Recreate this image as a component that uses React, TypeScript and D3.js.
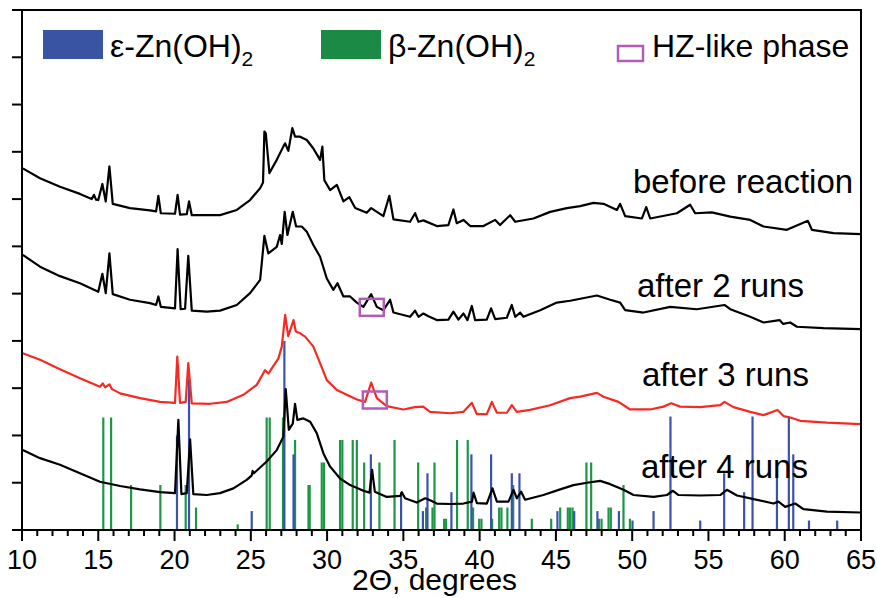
import React, { useEffect, useRef } from 'react';
import * as d3 from 'd3';

// reference stick patterns: [2theta, relative intensity %]
const epsilonSticks: [number, number][] = [
  [20.16, 50], [20.95, 80], [25.06, 10], [27.2, 100], [27.8, 40], [32.87, 40], [34.85, 20],
  [36.28, 10], [36.58, 30], [38.15, 20], [39.46, 40], [40.75, 40], [42.11, 30], [42.61, 30],
  [45.1, 10], [46.2, 10], [47.72, 10], [49.13, 10], [50.02, 5], [51.4, 10], [52.51, 60],
  [54.46, 5], [56.03, 30], [57.34, 20], [57.89, 60], [59.49, 30], [60.27, 60], [60.56, 40],
  [61.59, 5], [63.44, 5],
];

const betaSticks: [number, number][] = [
  [15.33, 100], [15.84, 100], [17.15, 40], [19.07, 40], [20.73, 40], [21.41, 20], [24.14, 5],
  [26.04, 100], [26.24, 100], [27.11, 100], [27.9, 80], [28.78, 40], [28.86, 40], [29.65, 60],
  [29.8, 60], [30.85, 80], [31.0, 80], [31.68, 80], [31.95, 80], [32.43, 60], [33.43, 60],
  [34.42, 80], [35.97, 60], [36.49, 20], [36.91, 20], [37.04, 60], [37.67, 10], [37.8, 10],
  [38.52, 80], [39.22, 80], [39.57, 20], [39.97, 10], [40.12, 10], [40.82, 10], [41.28, 20],
  [41.43, 20], [41.82, 20], [42.2, 40], [43.42, 10], [44.69, 10], [45.28, 20], [45.78, 20],
  [45.93, 20], [46.09, 20], [47.0, 60], [47.31, 60], [47.82, 10], [47.99, 10], [48.45, 20],
  [48.6, 20], [49.43, 40], [49.85, 10],
];

// full-scale stick height of each phase, in axis units
const epsilonFull = 4.0;
const betaFull = 2.38;

// measured patterns (offset stacked), [2theta, intensity a.u.]
const beforeReaction: [number, number][] = [
  [10.05, 7.65], [11.18, 7.44], [12.49, 7.26], [13.8, 7.11], [14.57, 7.0], [14.72, 7.09], [14.85, 6.99],
  [15.0, 6.98], [15.27, 7.32], [15.49, 6.95], [15.73, 7.69], [15.95, 6.9], [17.08, 6.81], [18.39, 6.76],
  [18.79, 6.74], [18.94, 7.07], [19.1, 6.7], [20.03, 6.69], [20.2, 7.09], [20.36, 6.67], [20.8, 6.68],
  [20.95, 6.95], [21.13, 6.66], [22.11, 6.66], [22.98, 6.66], [24.08, 6.77], [24.95, 6.98], [25.61, 7.23],
  [25.8, 7.35], [25.89, 8.43], [25.98, 8.39], [26.22, 7.55], [26.7, 7.83], [27.13, 8.11], [27.25, 8.18],
  [27.46, 8.02], [27.72, 8.5], [27.9, 8.32], [28.23, 8.32], [28.67, 8.25], [29.1, 8.07], [29.54, 7.83],
  [29.69, 8.11], [29.82, 7.4], [30.2, 7.19], [30.64, 7.3], [31.07, 6.95], [31.46, 7.04], [31.84, 6.81],
  [32.6, 6.71], [32.89, 6.81], [33.69, 6.64], [34.08, 7.07], [34.35, 6.57], [35.44, 6.52], [35.77, 6.7],
  [35.99, 6.52], [36.31, 6.55], [37.19, 6.43], [37.95, 6.45], [38.28, 6.78], [38.5, 6.49], [38.94, 6.56],
  [39.38, 6.43], [40.25, 6.43], [41.02, 6.56], [41.34, 6.45], [42.0, 6.66], [42.33, 6.52], [43.53, 6.59],
  [44.62, 6.73], [45.72, 6.81], [46.59, 6.85], [47.46, 6.92], [48.12, 6.9], [49.0, 6.77], [49.21, 6.9],
  [49.54, 6.64], [50.64, 6.59], [50.92, 6.83], [51.18, 6.59], [52.93, 6.7], [53.8, 6.88], [54.13, 6.7],
  [55.22, 6.72], [56.43, 6.63], [57.74, 6.56], [58.61, 6.42], [60.14, 6.35], [61.52, 6.54], [61.78, 6.35],
  [63.2, 6.28], [65.0, 6.26],
];

const after2Runs: [number, number][] = [
  [10.05, 5.82], [11.18, 5.57], [12.49, 5.37], [13.8, 5.22], [15.0, 5.04], [15.27, 5.42], [15.49, 5.01],
  [15.73, 5.85], [15.95, 4.99], [17.08, 4.87], [18.39, 4.8], [18.79, 4.76], [18.94, 4.94], [19.1, 4.72],
  [20.03, 4.69], [20.2, 5.94], [20.4, 4.67], [20.69, 4.68], [20.9, 5.8], [21.13, 4.64], [22.11, 4.62],
  [22.98, 4.64], [24.08, 4.76], [24.95, 5.01], [25.61, 5.29], [25.89, 6.22], [26.15, 5.85], [26.7, 5.99],
  [26.92, 6.24], [27.03, 6.05], [27.22, 6.73], [27.4, 6.24], [27.75, 6.73], [27.97, 6.42], [28.34, 6.42],
  [28.67, 6.31], [29.1, 6.03], [29.54, 5.78], [29.98, 5.32], [30.41, 5.08], [30.68, 5.22], [31.07, 4.94],
  [31.51, 4.94], [31.95, 4.81], [32.38, 4.72], [32.89, 4.99], [33.26, 4.72], [33.69, 4.65], [34.13, 4.87],
  [34.35, 4.6], [35.44, 4.51], [35.77, 4.64], [35.99, 4.51], [36.31, 4.58], [36.64, 4.52], [37.19, 4.44],
  [37.95, 4.45], [38.28, 4.62], [38.61, 4.45], [38.94, 4.58], [39.2, 4.44], [39.49, 4.74], [39.7, 4.44],
  [40.47, 4.45], [40.75, 4.69], [41.02, 4.46], [41.78, 4.49], [42.11, 4.76], [42.33, 4.51], [42.66, 4.6],
  [42.87, 4.51], [43.97, 4.65], [45.06, 4.81], [45.93, 4.85], [47.69, 4.96], [48.56, 4.87], [49.21, 4.81],
  [49.54, 4.65], [50.74, 4.6], [52.49, 4.72], [54.24, 4.67], [56.05, 4.76], [56.43, 4.67], [57.74, 4.51],
  [58.61, 4.39], [59.66, 4.44], [59.9, 4.36], [60.36, 4.39], [60.8, 4.3], [62.54, 4.27], [65.0, 4.25],
];

const after3Runs: [number, number][] = [
  [10.05, 3.74], [11.18, 3.6], [12.49, 3.4], [13.8, 3.21], [15.11, 3.03], [15.29, 3.1], [15.45, 3.02],
  [15.73, 3.08], [15.9, 2.98], [16.43, 2.89], [17.74, 2.79], [19.05, 2.71], [20.03, 2.69], [20.18, 3.67],
  [20.36, 2.69], [20.73, 2.71], [20.9, 3.53], [21.13, 2.68], [22.33, 2.67], [23.42, 2.71], [24.51, 2.86],
  [25.39, 3.07], [25.93, 3.38], [26.15, 3.31], [26.81, 3.63], [27.03, 3.88], [27.25, 4.55], [27.45, 4.1],
  [27.8, 4.44], [27.95, 4.2], [28.23, 4.16], [28.56, 4.09], [29.1, 3.88], [29.54, 3.53], [29.98, 3.17],
  [30.64, 2.96], [31.29, 2.86], [31.95, 2.76], [32.49, 2.71], [32.89, 3.12], [33.26, 2.79], [33.91, 2.62],
  [35.0, 2.55], [35.75, 2.6], [36.3, 2.61], [36.75, 2.5], [38.07, 2.47], [38.94, 2.5], [39.49, 2.69],
  [39.82, 2.45], [40.47, 2.45], [40.8, 2.71], [41.13, 2.48], [41.78, 2.48], [42.11, 2.64], [42.44, 2.5],
  [43.31, 2.54], [44.62, 2.64], [45.93, 2.79], [46.59, 2.82], [47.69, 2.9], [48.12, 2.82], [49.1, 2.71],
  [49.87, 2.55], [51.18, 2.55], [52.05, 2.61], [52.56, 2.68], [53.15, 2.61], [54.46, 2.6], [55.77, 2.64],
  [56.05, 2.71], [56.64, 2.6], [57.74, 2.5], [58.61, 2.43], [59.53, 2.54], [59.92, 2.41], [60.36, 2.38],
  [61.02, 2.31], [62.77, 2.27], [64.95, 2.24],
];

const after4Runs: [number, number][] = [
  [10.05, 1.69], [11.18, 1.52], [12.49, 1.38], [13.8, 1.2], [15.11, 1.02], [16.43, 0.93], [17.74, 0.86],
  [19.05, 0.8], [20.03, 0.78], [20.25, 2.33], [20.45, 0.76], [20.8, 0.78], [21.02, 1.92], [21.23, 0.76],
  [22.11, 0.74], [22.98, 0.78], [23.86, 0.88], [24.73, 1.06], [25.05, 1.15], [25.12, 1.25], [25.2, 1.2],
  [26.04, 1.45], [26.7, 1.69], [27.13, 1.97], [27.29, 2.98], [27.49, 2.12], [27.75, 2.25], [27.9, 2.67],
  [28.05, 2.33], [28.45, 2.36], [28.89, 2.29], [29.32, 2.05], [29.76, 1.62], [30.2, 1.34], [30.85, 1.09],
  [31.51, 0.95], [32.38, 0.83], [32.78, 0.79], [32.95, 1.27], [33.13, 0.81], [33.91, 0.7], [34.8, 0.72],
  [34.9, 0.8], [35.11, 0.67], [35.88, 0.58], [36.43, 0.67], [36.75, 0.63], [37.19, 0.56], [38.07, 0.55],
  [38.94, 0.56], [39.5, 0.6], [39.6, 0.79], [39.82, 0.57], [40.47, 0.56], [40.84, 0.88], [41.13, 0.6],
  [41.89, 0.6], [42.22, 0.85], [42.44, 0.67], [42.72, 0.81], [42.98, 0.64], [44.18, 0.74], [45.28, 0.86],
  [46.15, 0.95], [47.03, 1.0], [47.9, 1.04], [48.56, 0.97], [49.43, 0.85], [50.09, 0.74], [51.4, 0.7],
  [52.28, 0.74], [52.67, 0.83], [53.04, 0.74], [54.46, 0.73], [55.77, 0.74], [56.21, 0.85], [56.87, 0.73],
  [57.74, 0.67], [59.26, 0.56], [59.59, 0.6], [60.03, 0.49], [60.69, 0.56], [61.23, 0.44], [62.77, 0.39],
  [64.95, 0.37],
];

// HZ-like phase markers: [2theta, level]
const hzMarks: [number, number][] = [[32.93, 4.71], [33.13, 2.75]];

const xTicks = [10, 15, 20, 25, 30, 35, 40, 45, 50, 55, 60, 65];

const App = () => {
  const ref = useRef<SVGSVGElement>(null);

  useEffect(() => {
    const svg = d3.select(ref.current);
    svg.selectAll('*').remove(); // strict mode runs this twice

    const x = d3.scaleLinear().domain([10, 65]).range([22, 861]);
    const y = d3.scaleLinear().domain([0, 11]).range([530, 10]);
    const font = '"Liberation Sans", Arial, sans-serif';

    // sticks go underneath the curves
    const sticks = (data: [number, number][], full: number, color: string) => {
      svg.append('g')
        .selectAll('line')
        .data(data)
        .enter()
        .append('line')
        .attr('x1', d => x(d[0]))
        .attr('x2', d => x(d[0]))
        .attr('y1', y(0))
        .attr('y2', d => y((d[1] / 100) * full))
        .attr('stroke', color)
        .attr('stroke-width', 2.2);
    };
    sticks(betaSticks, betaFull, '#1d9646');
    sticks(epsilonSticks, epsilonFull, '#3a52ad');

    const line = d3.line<[number, number]>().x(d => x(d[0])).y(d => y(d[1]));
    const curves: [[number, number][], string][] = [
      [beforeReaction, '#000'],
      [after2Runs, '#000'],
      [after3Runs, '#f52a22'],
      [after4Runs, '#000'],
    ];
    curves.forEach(([data, color]) => {
      svg.append('path')
        .attr('d', line(data))
        .attr('fill', 'none')
        .attr('stroke', color)
        .attr('stroke-width', 2.2)
        .attr('stroke-linejoin', 'round');
    });

    svg.append('g')
      .selectAll('rect')
      .data(hzMarks)
      .enter()
      .append('rect')
      .attr('x', d => x(d[0]) - 12)
      .attr('y', d => y(d[1]) - 8.5)
      .attr('width', 24)
      .attr('height', 17)
      .attr('fill', 'none')
      .attr('stroke', '#b35cb5')
      .attr('stroke-width', 2.5);

    // frame
    svg.append('rect')
      .attr('x', 22).attr('y', 10).attr('width', 839).attr('height', 520)
      .attr('fill', 'none').attr('stroke', '#000').attr('stroke-width', 2);

    // x ticks: minor every degree, major every 5
    const xg = svg.append('g');
    d3.range(10, 66).forEach(v => {
      const major = v % 5 === 0;
      xg.append('line')
        .attr('x1', x(v)).attr('x2', x(v))
        .attr('y1', 530).attr('y2', 530 + (major ? 11 : 6))
        .attr('stroke', '#000').attr('stroke-width', 2);
    });
    xg.selectAll('text')
      .data(xTicks)
      .enter()
      .append('text')
      .attr('x', d => x(d))
      .attr('y', 569)
      .attr('text-anchor', 'middle')
      .attr('font-family', font)
      .attr('font-size', 27)
      .text(d => d);

    // y ticks, no labels
    svg.append('g')
      .selectAll('line')
      .data(d3.range(0, 12))
      .enter()
      .append('line')
      .attr('x1', 12).attr('x2', 22)
      .attr('y1', d => y(d)).attr('y2', d => y(d))
      .attr('stroke', '#000').attr('stroke-width', 2);

    // axis title sits tight under the tick labels, as in the original
    svg.append('text')
      .attr('x', 352).attr('y', 590)
      .attr('font-family', font).attr('font-size', 30)
      .text('2Θ, degrees');

    // curve labels
    const labels: [string, number, number][] = [
      ['before reaction', 633, 193],
      ['after 2 runs', 637, 297],
      ['after 3 runs', 642, 386],
      ['after 4 runs', 641, 478],
    ];
    labels.forEach(([t, lx, ly]) => {
      svg.append('text')
        .attr('x', lx).attr('y', ly)
        .attr('font-family', font).attr('font-size', 33)
        .text(t);
    });

    // legend
    const leg = svg.append('g').attr('font-family', font).attr('font-size', 32);
    const phaseItem = (rx: number, color: string, prefix: string) => {
      leg.append('rect')
        .attr('x', rx).attr('y', 30).attr('width', 60).attr('height', 29)
        .attr('fill', color);
      const t = leg.append('text').attr('x', rx + 67).attr('y', 57);
      t.append('tspan').text(`${prefix}-Zn(OH)`);
      t.append('tspan').attr('font-size', 21).attr('dy', 9).text('2');
    };
    phaseItem(43, '#3a54a4', 'ε');
    phaseItem(321, '#1b8a45', 'β');
    leg.append('rect')
      .attr('x', 618).attr('y', 46).attr('width', 25).attr('height', 15)
      .attr('fill', 'none').attr('stroke', '#b35cb5').attr('stroke-width', 2.5);
    leg.append('text').attr('x', 652).attr('y', 57).text('HZ-like phase');

    return () => {
      svg.selectAll('*').remove();
    };
  }, []);

  return (
    <svg
      ref={ref}
      width={877}
      height={598}
      style={{ position: 'absolute', left: 0, top: 0, background: '#fff' }}
    />
  );
};

export default App;
